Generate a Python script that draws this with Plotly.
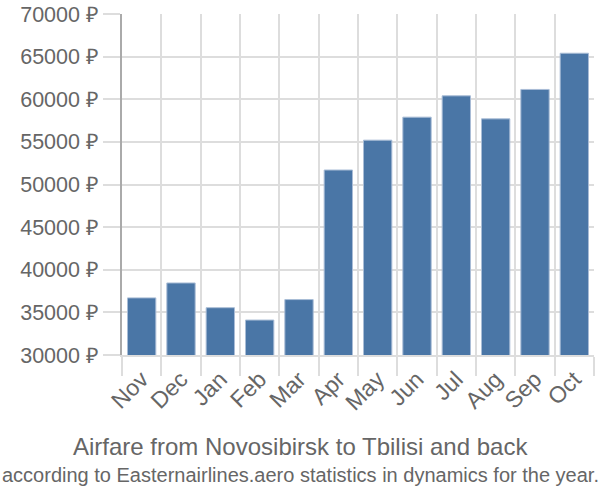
import plotly.graph_objects as go

months = ["Nov", "Dec", "Jan", "Feb", "Mar", "Apr", "May", "Jun", "Jul", "Aug", "Sep", "Oct"]
prices = [36700, 38450, 35550, 34100, 36500, 51700, 55200, 57900, 60400, 57700, 61150, 65400]
yticks = [30000, 35000, 40000, 45000, 50000, 55000, 60000, 65000, 70000]
ytext = [f"{v} ₽" for v in yticks]

title = "Airfare from Novosibirsk to Tbilisi and back"
subtitle = "according to Easternairlines.aero statistics in dynamics for the year."

fig = go.Figure(go.Bar(
    x=months, y=prices,
    marker=dict(color="#4a76a6", line=dict(color="#a9bdd6", width=1)),
    width=0.72,
))

font = "Liberation Sans, Arial, sans-serif"
fig.update_layout(
    width=600, height=500,
    margin=dict(l=122, r=6, t=14, b=145),
    plot_bgcolor="white", paper_bgcolor="white",
    showlegend=False,
    font=dict(family=font, color="#666666", size=22),
    xaxis=dict(
        type="category", tickson="boundaries", showgrid=True, gridcolor="#dddddd", gridwidth=1.5,
        ticks="outside", ticklen=19, tickcolor="#dddddd", tickwidth=1.5,
        tickangle=-45, tickfont=dict(size=23, color="#666666"),
        showline=True, linecolor="#dddddd", linewidth=1.5, automargin=False,
    ),
    yaxis=dict(
        range=[30000, 70000], tickvals=yticks, ticktext=ytext,
        showgrid=True, gridcolor="#dddddd", gridwidth=1.5,
        ticks="outside", ticklen=17, tickcolor="#dddddd", tickwidth=1.5,
        tickfont=dict(size=21.5, color="#666666"),
        showline=True, linecolor="#aaaaaa", linewidth=1.5, zeroline=False, automargin=False,
    ),
)
H_plot = 500 - 14 - 145
xc = (300 - 122) / (600 - 128)
fig.add_annotation(text=title, x=xc, xref="paper", y=(355 - 446) / H_plot, yref="paper",
                   showarrow=False, xanchor="center", yanchor="middle",
                   font=dict(size=24, color="#666666"))
fig.add_annotation(text=subtitle, x=xc, xref="paper", y=(355 - 475) / H_plot, yref="paper",
                   showarrow=False, xanchor="center", yanchor="middle",
                   font=dict(size=20, color="#666666"))

fig.write_html("out.html")
